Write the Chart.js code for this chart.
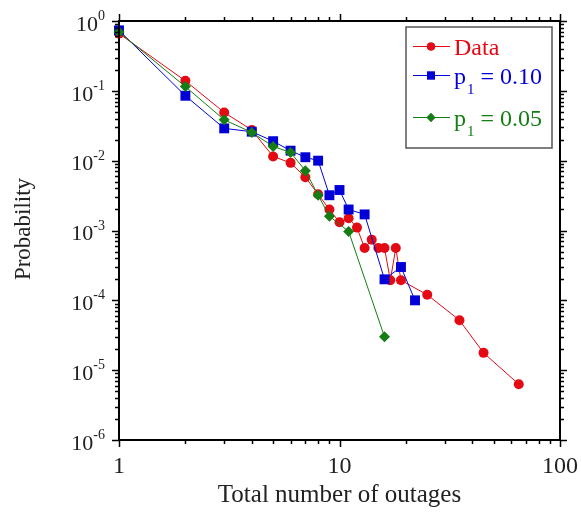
<!DOCTYPE html>
<html>
<head>
<meta charset="utf-8">
<script src="https://cdn.jsdelivr.net/npm/chart.js@4.4.0/dist/chart.umd.min.js"></script>
<style>
  html, body { margin: 0; padding: 0; background: #fff; }
  #wrap { width: 581px; height: 512px; }
</style>
</head>
<body>
<div id="wrap"><canvas id="chart" width="581" height="512"></canvas></div>
<script>
// observed outage distribution
const dataX = [1, 2, 3, 4, 5, 6, 7, 8, 9, 10, 11, 12, 13, 14, 15, 16, 17, 18, 19, 25, 35, 45, 65];
const dataY = [0.66, 0.139, 0.049, 0.0275, 0.0115, 0.0093, 0.0058, 0.0033, 0.0020, 0.00131, 0.0015, 0.0011,
  0.00056, 0.00074, 0.00056, 0.00056, 0.000194, 0.00056, 0.000194, 0.00012, 5.2e-5, 1.77e-5, 6.3e-6];

// model, p1 = 0.10
const p10X = [1, 2, 3, 4, 5, 6, 7, 8, 9, 10, 11, 13, 16, 19, 22];
const p10Y = [0.735, 0.085, 0.029, 0.026, 0.019, 0.0139, 0.0112, 0.010, 0.0032, 0.0038, 0.0020, 0.0017, 0.0002, 0.0003, 0.0001];

// model, p1 = 0.05
const p05X = [1, 2, 3, 4, 5, 6, 7, 8, 9, 11, 16];
const p05Y = [0.696, 0.115, 0.0385, 0.0254, 0.016, 0.0131, 0.0072, 0.0032, 0.0016, 0.00097, 3.0e-5];

const xLabels = ['1', '10', '100'];
const yExponents = [0, -1, -2, -3, -4, -5, -6];

const legendNames = [['Data', null], ['p', '1', ' = 0.10'], ['p', '1', ' = 0.05']];

const RED = 'rgb(228,10,20)';
const BLUE = 'rgb(0,0,215)';
const GREEN = 'rgb(20,125,20)';
const SERIF = '"Liberation Serif", "Times New Roman", serif';

function toPoints(xs, ys) {
  return xs.map((x, i) => ({ x, y: ys[i] }));
}

function makeSet(label, xs, ys, color, style, radius, order) {
  return {
    label,
    data: toPoints(xs, ys),
    borderColor: color,
    backgroundColor: color,
    borderWidth: 1,
    pointStyle: style,
    pointRadius: radius,
    pointBorderWidth: 0,
    pointBackgroundColor: color,
    showLine: true,
    tension: 0,
    clip: false,
    order
  };
}

const axesPlugin = {
  id: 'axesPlugin',
  afterDraw(chart) {
    const ctx = chart.ctx;
    const xs = chart.scales.x;
    const ys = chart.scales.y;
    const a = chart.chartArea;
    ctx.save();
    ctx.strokeStyle = '#000';
    ctx.fillStyle = '#000';

    // frame
    ctx.lineWidth = 2;
    ctx.strokeRect(a.left, a.top, a.right - a.left, a.bottom - a.top);

    // x ticks (bottom + top, outward)
    ctx.lineWidth = 1.5;
    for (let d = 0; d <= 2; d++) {
      for (let m = 1; m <= 9; m++) {
        const v = m * Math.pow(10, d);
        if (v > 100) break;
        const px = Math.round(xs.getPixelForValue(v)) + 0.5;
        const len = m === 1 ? 7 : 4;
        ctx.beginPath();
        ctx.moveTo(px, a.bottom);
        ctx.lineTo(px, a.bottom + len);
        ctx.moveTo(px, a.top);
        ctx.lineTo(px, a.top - len);
        ctx.stroke();
      }
    }
    // y ticks (left + right, outward)
    for (let e = -6; e <= 0; e++) {
      for (let m = 1; m <= 9; m++) {
        const v = m * Math.pow(10, e);
        if (v > 1) break;
        const py = Math.round(ys.getPixelForValue(v)) + 0.5;
        const len = m === 1 ? 7 : 4;
        ctx.beginPath();
        ctx.moveTo(a.left, py);
        ctx.lineTo(a.left - len, py);
        ctx.moveTo(a.right, py);
        ctx.lineTo(a.right + len, py);
        ctx.stroke();
      }
    }

    // y tick labels 10^e
    ctx.fillStyle = '#222';
    yExponents.forEach(e => {
      const py = ys.getPixelForValue(Math.pow(10, e));
      ctx.font = '14px ' + SERIF;
      const expTxt = String(e);
      const ew = ctx.measureText(expTxt).width;
      const x0 = 105 - ew;
      ctx.textAlign = 'left';
      ctx.textBaseline = 'alphabetic';
      ctx.fillText(expTxt, x0, py - 1);
      ctx.font = '22px ' + SERIF;
      ctx.textAlign = 'right';
      ctx.textBaseline = 'middle';
      ctx.fillText('10', x0, py + 4);
    });

    // x tick labels
    ctx.font = '24px ' + SERIF;
    ctx.textAlign = 'center';
    ctx.textBaseline = 'middle';
    xLabels.forEach(t => {
      ctx.fillText(t, xs.getPixelForValue(Number(t)), 467);
    });

    // axis titles
    ctx.font = '25px ' + SERIF;
    ctx.textBaseline = 'alphabetic';
    ctx.fillText('Total number of outages', (a.left + a.right) / 2, 502);
    ctx.save();
    ctx.translate(24, 229);
    ctx.rotate(-Math.PI / 2);
    ctx.font = '23px ' + SERIF;
    ctx.textBaseline = 'middle';
    ctx.fillText('Probability', 0, 0);
    ctx.restore();

    // legend
    ctx.fillStyle = '#fff';
    ctx.fillRect(406, 27, 146, 121);
    ctx.strokeStyle = '#555';
    ctx.lineWidth = 1.5;
    ctx.strokeRect(406, 27, 146, 121);
    const rowY = [46, 75, 117];
    const sets = chart.data.datasets;
    sets.forEach((ds, i) => {
      const y = rowY[i];
      ctx.strokeStyle = ds.borderColor;
      ctx.lineWidth = 1;
      ctx.beginPath();
      ctx.moveTo(413, y + 0.5);
      ctx.lineTo(450, y + 0.5);
      ctx.stroke();
      ctx.fillStyle = ds.pointBackgroundColor;
      Chart.helpers.drawPoint(ctx, { pointStyle: ds.pointStyle, radius: ds.pointRadius * 0.8, borderWidth: 0 }, 431, y + 0.5);
      ctx.fill();
      const parts = legendNames[i];
      ctx.textAlign = 'left';
      ctx.textBaseline = 'alphabetic';
      ctx.font = '24px ' + SERIF;
      let x = 454;
      ctx.fillText(parts[0], x, y + 9);
      x += ctx.measureText(parts[0]).width;
      if (parts[1]) {
        ctx.font = '15px ' + SERIF;
        ctx.fillText(parts[1], x + 1, y + 19);
        x += ctx.measureText(parts[1]).width + 1;
        ctx.font = '24px ' + SERIF;
        ctx.fillText(parts[2], x, y + 9);
      }
    });
    ctx.restore();
  }
};

new Chart(document.getElementById('chart'), {
  type: 'line',
  data: {
    datasets: [
      makeSet('Data', dataX, dataY, RED, 'circle', 5, 3),
      makeSet('p1 = 0.10', p10X, p10Y, BLUE, 'rect', 7, 2),
      makeSet('p1 = 0.05', p05X, p05Y, GREEN, 'rectRot', 5.5, 1)
    ]
  },
  options: {
    responsive: false,
    animation: false,
    layout: { padding: { left: 119, right: 21, top: 21, bottom: 72 } },
    plugins: {
      legend: { display: false },
      tooltip: { enabled: false }
    },
    scales: {
      x: { type: 'logarithmic', min: 1, max: 100, display: false },
      y: { type: 'logarithmic', min: 1e-6, max: 1, display: false }
    }
  },
  plugins: [axesPlugin]
});
</script>
</body>
</html>
